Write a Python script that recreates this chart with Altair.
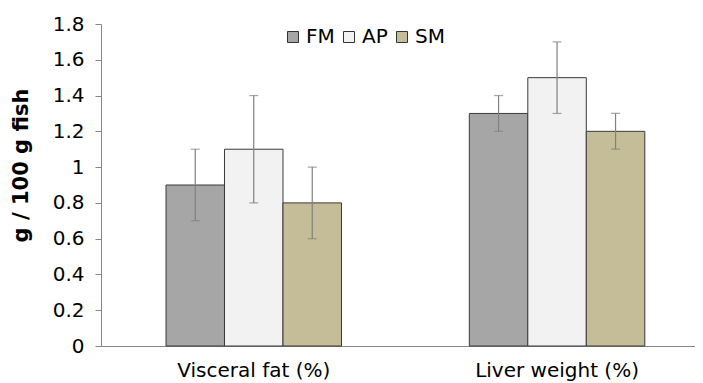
import altair as alt
import pandas as pd

categories = ["Visceral fat (%)", "Liver weight (%)"]
groups = ["FM", "AP", "SM"]
values = {
    "Visceral fat (%)": [0.9, 1.1, 0.8],
    "Liver weight (%)": [1.3, 1.5, 1.2],
}
errors = {
    "Visceral fat (%)": [0.2, 0.3, 0.2],
    "Liver weight (%)": [0.1, 0.2, 0.1],
}
y_ticks = [0, 0.2, 0.4, 0.6, 0.8, 1, 1.2, 1.4, 1.6, 1.8]
colors = ["#a6a6a6", "#f2f2f2", "#c4bd97"]

rows = []
for c in categories:
    for g, v, e in zip(groups, values[c], errors[c]):
        rows.append({"cat": c, "grp": g, "val": v, "lo": v - e, "hi": v + e})
df = pd.DataFrame(rows)

FONT = "DejaVu Sans"
FS = 20

x = alt.X("cat:N", sort=categories, title=None,
          scale=alt.Scale(range=[0, 602], paddingInner=0.4214,
                          paddingOuter=0.2031, align=0.5276),
          axis=alt.Axis(labelAngle=0, ticks=False, domainColor="#868686",
                        labelFontSize=FS, labelPadding=14, labelColor="#000",
                        labelFont=FONT))
xoff = alt.XOffset("grp:N", sort=groups, scale=alt.Scale(paddingInner=0, paddingOuter=0))
yscale = alt.Scale(domain=[0, 1.8], nice=False)
yaxis = alt.Axis(values=y_ticks, format="~g", grid=False, tickSize=6,
                 domainColor="#868686", tickColor="#868686",
                 labelFontSize=FS, labelColor="#000", labelFont=FONT,
                 labelPadding=11, labelOverlap=False,
                 titleFont=FONT, titleFontSize=21,
                 titleFontWeight="bold", titleColor="#000",
                 titleX=-74, titleY=141, titleBaseline="alphabetic",
                 titleAlign="center", titleAngle=270)
YT = "g / 100 g fish"

bars = alt.Chart(df).mark_bar(stroke="#3a3a3a", strokeWidth=1).encode(
    x=x, xOffset=xoff,
    y=alt.Y("val:Q", scale=yscale, title=YT, axis=yaxis),
    fill=alt.Fill("grp:N", sort=groups,
                  scale=alt.Scale(domain=groups, range=colors),
                  legend=alt.Legend(title=None, orient="none", direction="horizontal",
                                    legendX=182, legendY=3, symbolType="square",
                                    symbolSize=121, symbolStrokeColor="#333333",
                                    symbolStrokeWidth=1, labelFontSize=FS,
                                    labelFont=FONT, labelColor="#000",
                                    columnPadding=4, symbolOffset=0,
                                    labelOffset=3)),
)

rules = alt.Chart(df).mark_rule(color="#808080", strokeWidth=1.2).encode(
    x=x, xOffset=xoff, y=alt.Y("lo:Q", scale=yscale, title=YT, axis=yaxis), y2="hi:Q"
)
caps_hi = alt.Chart(df).mark_tick(color="#808080", size=9, thickness=1.2, orient="horizontal").encode(
    x=x, xOffset=xoff, y=alt.Y("hi:Q", scale=yscale, title=YT, axis=yaxis)
)
caps_lo = alt.Chart(df).mark_tick(color="#808080", size=9, thickness=1.2, orient="horizontal").encode(
    x=x, xOffset=xoff, y=alt.Y("lo:Q", scale=yscale, title=YT, axis=yaxis)
)

chart = (bars + rules + caps_hi + caps_lo).properties(
    width=594, height=322,
    autosize=alt.AutoSizeParams(type="none"),
    padding={"left": 93, "top": 16, "right": 0, "bottom": 37},
    background="white",
).configure_view(stroke=None)

chart.save("out.html", embed_options={"renderer": "svg", "actions": False})
